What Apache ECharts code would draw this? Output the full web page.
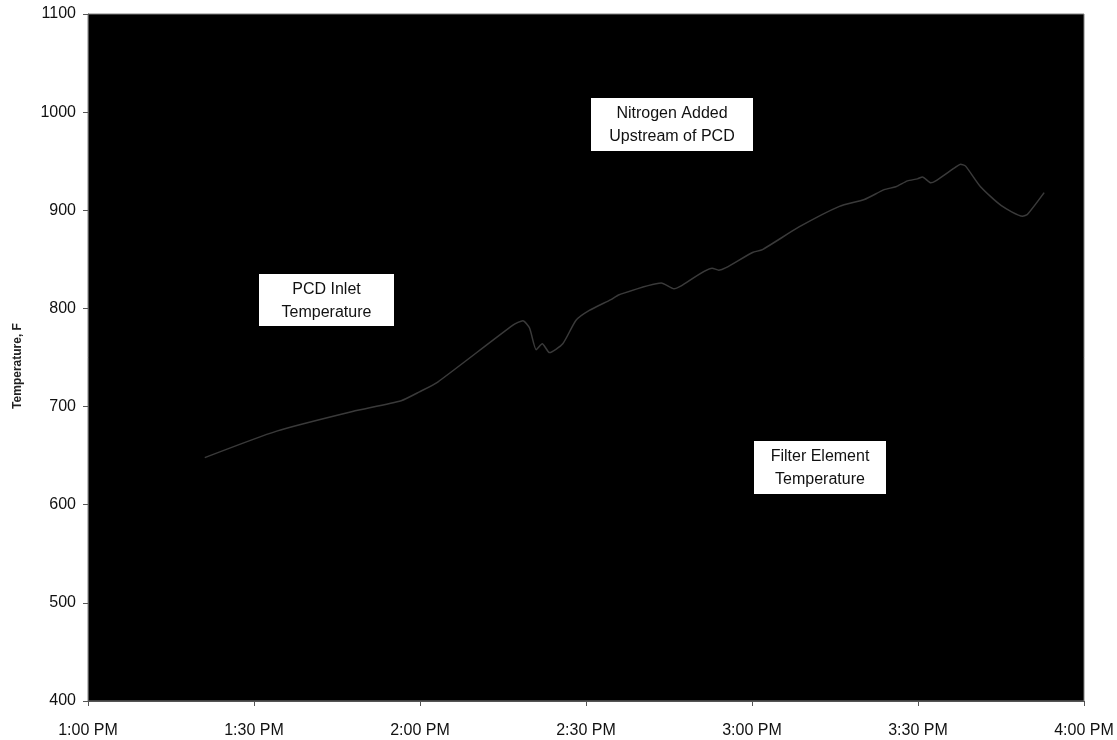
<!DOCTYPE html>
<html>
<head>
<meta charset="utf-8">
<script src="https://cdn.jsdelivr.net/npm/echarts@6/dist/echarts.min.js"></script>
<style>
  html, body { margin: 0; padding: 0; background: #fff; }
  #chart { width: 1117px; height: 740px; }
</style>
</head>
<body>
<div id="chart"></div>
<script>
// Elapsed minutes after 1:00 PM for each reading
const minutes = [21.1, 34.1, 47.8, 56.6, 59.9, 63.2, 76.8, 78.6, 79.8, 81.0, 82.1, 83.4, 85.8, 88.2, 90.6, 94.5, 96.0,
  103.6, 105.9, 107.2, 112.8, 114.0, 115.3, 120.1, 121.9, 128.5, 135.8, 140.3, 143.9, 146.0, 148.1, 149.9, 150.8,
  152.3, 153.2, 156.8, 157.7, 158.6, 161.3, 165.0, 168.9, 169.8, 172.8];
// Temperature readings, F
const temps = [648, 675, 695, 706, 715, 725, 783, 787.5, 780, 758, 764, 755, 764, 788, 798, 809, 814,
  826, 820, 823, 841, 839, 841.5, 857, 860, 883, 904, 911, 921, 924, 930, 932, 934,
  928, 930, 944, 947, 945, 924, 905, 894, 896, 918];
// Clock labels for the 30-minute ticks
const timeTicks = ['1:00 PM', '1:30 PM', '2:00 PM', '2:30 PM', '3:00 PM', '3:30 PM', '4:00 PM'];
// Annotation boxes: text lines and box bounds in pixels
const notes = [
  { lines: ['PCD Inlet', 'Temperature'], box: [259, 274, 394, 326] },
  { lines: ['Nitrogen Added', 'Upstream of PCD'], box: [591, 98, 753, 151] },
  { lines: ['Filter Element', 'Temperature'], box: [754, 441, 886, 494] }
];
const yTitle = 'Temperature, F';

const FONT = '"Liberation Sans", Arial, Helvetica, sans-serif';
const chart = echarts.init(document.getElementById('chart'));

const graphics = [];
notes.forEach(n => {
  const [x0, y0, x1, y1] = n.box;
  graphics.push({
    type: 'group',
    children: [
      { type: 'rect', shape: { x: x0, y: y0, width: x1 - x0, height: y1 - y0 }, style: { fill: '#fff' } },
      {
        type: 'text', x: (x0 + x1) / 2, y: (y0 + y1) / 2 + 1,
        style: {
          text: n.lines.join('\n'), fill: '#111', fontSize: 16, fontFamily: FONT,
          align: 'center', verticalAlign: 'middle', lineHeight: 23
        }
      }
    ]
  });
});
// Rotated y-axis title
graphics.push({
  type: 'text', x: 18, y: 366, rotation: Math.PI / 2,
  style: {
    text: yTitle, fill: '#222', fontSize: 12, fontWeight: 'bold', fontFamily: FONT,
    align: 'center', verticalAlign: 'middle'
  }
});

chart.setOption({
  animation: false,
  backgroundColor: '#fff',
  grid: {
    left: 88, right: 33, top: 14, bottom: 39,
    show: true, backgroundColor: '#000', borderColor: '#808080', borderWidth: 1
  },
  xAxis: {
    type: 'value', min: 0, max: 180, interval: 30,
    axisLine: { show: true, lineStyle: { color: '#555', width: 1 } },
    axisTick: { show: true, length: 5, lineStyle: { color: '#555' } },
    splitLine: { show: false },
    axisLabel: {
      margin: 22, color: '#111', fontSize: 16, fontFamily: FONT,
      formatter: v => timeTicks[Math.round(v / 30)]
    }
  },
  yAxis: {
    type: 'value', min: 400, max: 1100, interval: 100,
    axisLine: { show: true, lineStyle: { color: '#555', width: 1 } },
    axisTick: { show: true, length: 5, lineStyle: { color: '#555' } },
    splitLine: { show: false },
    axisLabel: { margin: 12, color: '#111', fontSize: 16, fontFamily: FONT, formatter: v => String(v) }
  },
  series: [{
    type: 'line',
    data: minutes.map((m, i) => [m, temps[i]]),
    showSymbol: false,
    smooth: 0.2,
    lineStyle: { color: '#3a3a3a', width: 1.5 }
  }],
  graphic: graphics
});
</script>
</body>
</html>
